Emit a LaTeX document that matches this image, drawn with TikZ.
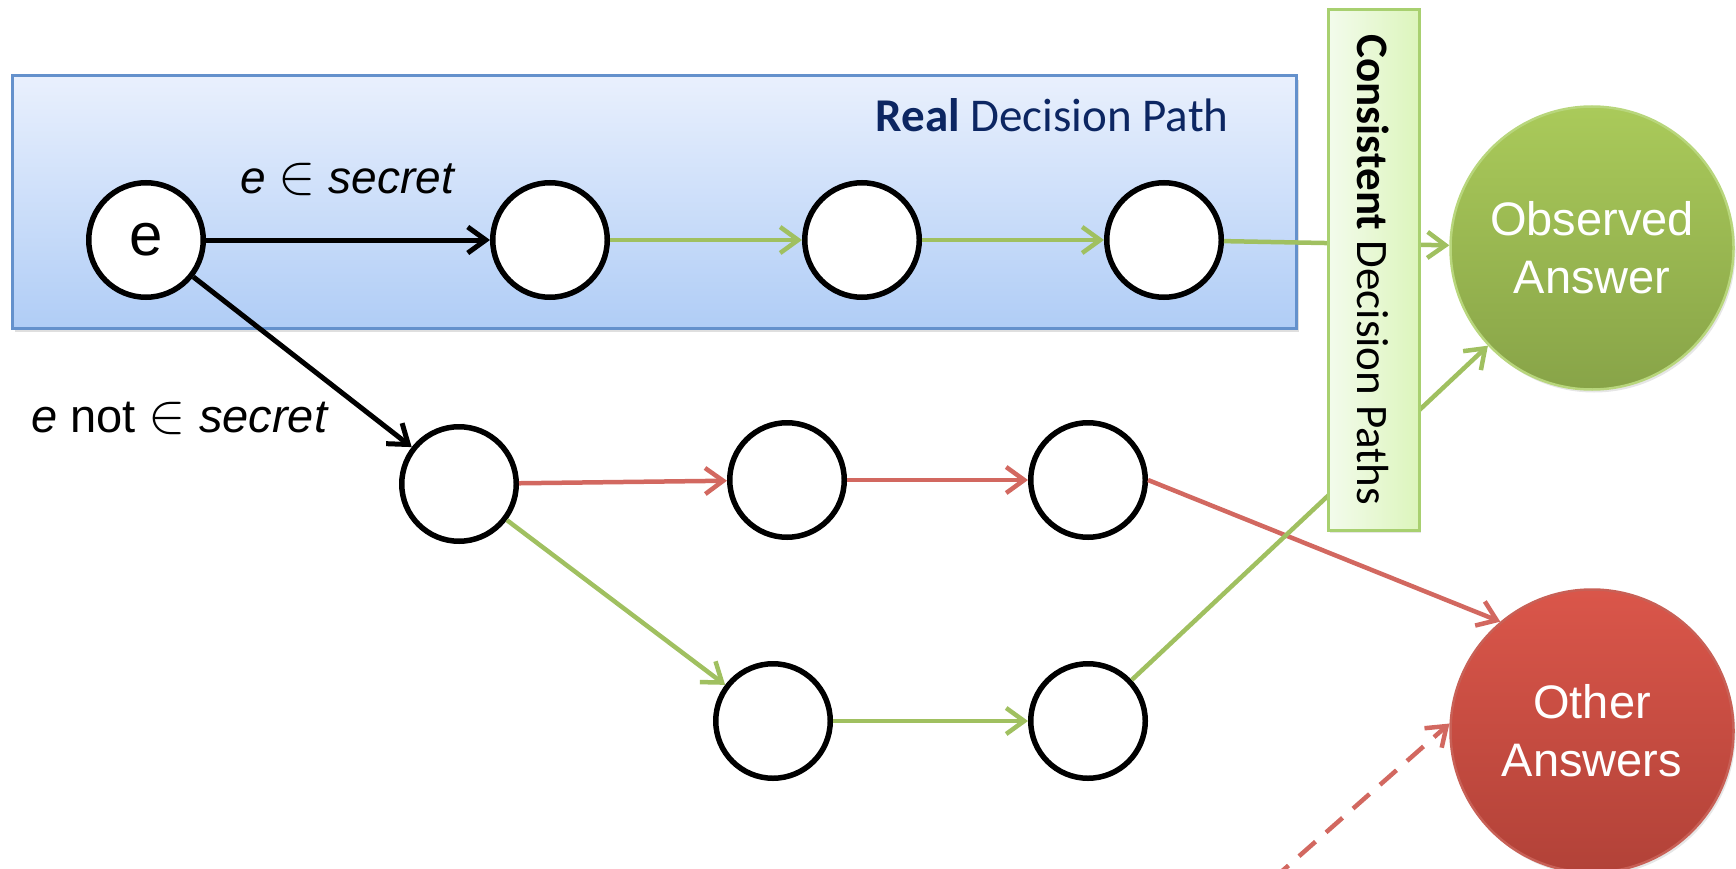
\RequirePackage{fix-cm}
\documentclass[tikz,border=0pt]{standalone}
\usepackage{fontspec}
\setmainfont{Liberation Sans}
\newfontfamily\calibri{Carlito}
\usepackage{tikz}
\usetikzlibrary{arrows.meta,positioning,shadows}
\newcommand{\elem}{{\fontsize{56}{56}\selectfont$\in$}}
\definecolor{navy}{RGB}{12, 38, 98}
\definecolor{okgreen}{RGB}{160, 192, 96}
\definecolor{badred}{RGB}{210, 104, 96}
\definecolor{realtop}{RGB}{233, 240, 253}
\definecolor{realbot}{RGB}{176, 205, 246}
\definecolor{realline}{RGB}{100, 145, 204}
\definecolor{constop}{RGB}{243, 251, 236}
\definecolor{consbot}{RGB}{220, 245, 188}
\definecolor{consline}{RGB}{168, 208, 112}
\definecolor{obstop}{RGB}{170, 202, 90}
\definecolor{obsbot}{RGB}{136, 164, 72}
\definecolor{obsline}{RGB}{184, 214, 124}
\definecolor{othtop}{RGB}{218, 86, 74}
\definecolor{othbot}{RGB}{178, 66, 56}
\definecolor{othline}{RGB}{200, 96, 86}
\tikzstyle{dnode} = [circle, draw=black, line width=5.5pt, fill=white, minimum size=114.5pt, inner sep=0pt, font=\fontsize{60}{60}\selectfont]
\tikzstyle{answer} = [circle, line width=2.5pt, minimum size=283pt, inner sep=0pt, align=center, text=white, font=\fontsize{47}{58}\selectfont, drop shadow={opacity=0.2, shadow xshift=2pt, shadow yshift=-3pt}]
\tikzstyle{textonly} = [draw=none, fill=none, text=black, font=\fontsize{46}{52}\selectfont]
\tikzstyle{kedge} = [draw, line width=5pt, -{Straight Barb[length=18pt, width=26pt]}]
\tikzstyle{gedge} = [kedge, draw=okgreen, line width=4.5pt]
\tikzstyle{redge} = [kedge, draw=badred, line width=4.5pt]

\begin{document}
\begin{tikzpicture}[x=1pt, y=-1pt]
\useasboundingbox (0,0) rectangle (1736,869);

% real path box =============================
\node[draw=realline, line width=3pt, top color=realtop, bottom color=realbot, minimum width=1284pt, minimum height=252pt, drop shadow={opacity=0.25, shadow xshift=3pt, shadow yshift=-4pt}] (real) at (654,202) {};
\node[anchor=base east, text=navy, font=\calibri\fontsize{47}{52}\selectfont] (realtxt) at (1232,132) {\textbf{Real} Decision Path};

% decision nodes =============================
\node[dnode] (e) at (146,240) {e};
\node[dnode] (t1) at (550,240) {};
\node[dnode] (t2) at (862,240) {};
\node[dnode] (t3) at (1164,240) {};
\node[dnode] (m1) at (459,484) {};
\node[dnode] (m2) at (787,480) {};
\node[dnode] (m3) at (1088,480) {};
\node[dnode] (b1) at (773,721) {};
\node[dnode] (b2) at (1088,721) {};

% answers
\node[answer, draw=obsline, top color=obstop, bottom color=obsbot] (obs) at (1592,248) {Observed\\Answer};
\node[answer, draw=othline, top color=othtop, bottom color=othbot] (other) at (1592,731) {Other\\Answers};
\coordinate (elsewhere) at (1272,880);

% edges
\path[kedge] (e) edge node[textonly, above=38pt] {\textit{e} \elem{} \textit{secret}} (t1);
\path[kedge] (e) edge node[textonly, pos=0.83, left=40pt, font=\fontsize{47}{52}\selectfont] {\textit{e} not \elem{} \textit{secret}} (m1);

\path[gedge] (t1) edge (t2);
\path[gedge] (t2) edge (t3);
\path[gedge] (t3) edge (obs);

\path[redge] (m1) edge (m2);
\path[redge] (m2) edge (m3);
\draw[redge] (m3.east) -- (other.130);

\path[gedge] (m1) edge (b1);
\path[gedge] (b1) edge (b2);
\path[gedge] (b2) edge (obs);

\draw[redge, dash pattern=on 22pt off 14pt] (elsewhere) -- (other.177);

% consistent paths box (drawn over the edges)
\node[rotate=-90, draw=consline, line width=3pt, left color=constop, right color=consbot, minimum width=520pt, minimum height=91pt, font=\calibri\fontsize{45}{52}\selectfont, drop shadow={opacity=0.2, shadow xshift=2pt, shadow yshift=-3pt}] (cons) at (1373.5,270) {\textbf{Consistent} Decision Paths};

\end{tikzpicture}
\end{document}
